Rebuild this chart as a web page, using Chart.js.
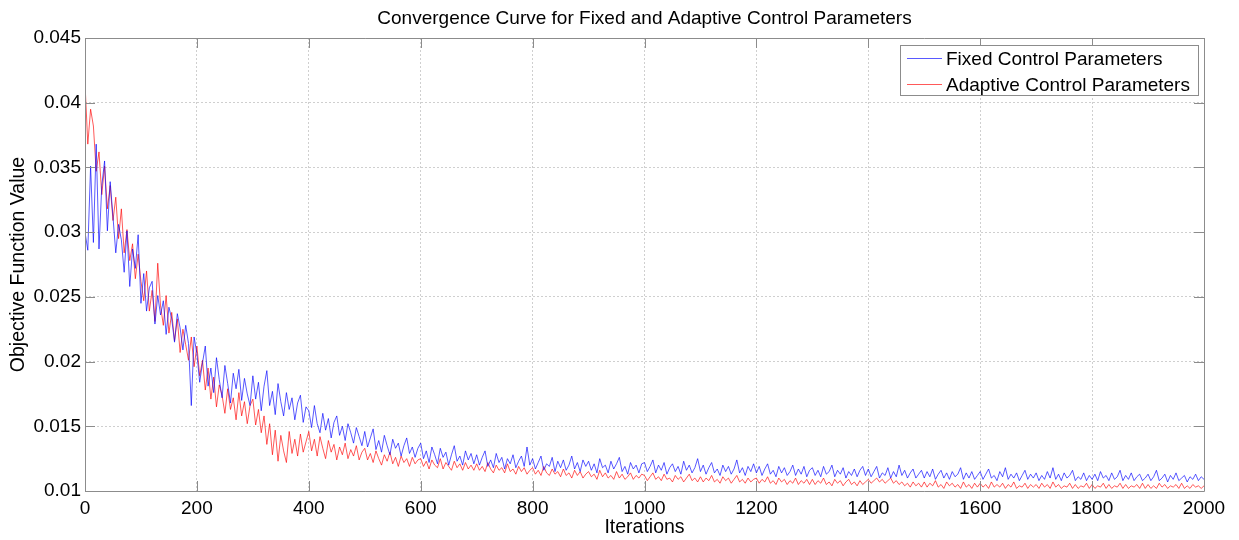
<!DOCTYPE html>
<html>
<head>
<meta charset="utf-8">
<title>Convergence Curve</title>
<script src="https://cdn.jsdelivr.net/npm/chart.js@4/dist/chart.umd.min.js"></script>
<style>
    body { margin: 0; background: #fff; }
    #wrap { width: 1239px; height: 540px; }
</style>
</head>
<body>
<div id="wrap"><canvas id="convChart" width="1239" height="540"></canvas></div>
<script>
const ITER_STEP = 5;
const X_TICKS = [0, 200, 400, 600, 800, 1000, 1200, 1400, 1600, 1800, 2000];
const Y_TICKS = [0.01, 0.015, 0.02, 0.025, 0.03, 0.035, 0.04, 0.045];
const SERIES_LABELS = ['Fixed Control Parameters', 'Adaptive Control Parameters'];
const TITLE_TEXT = 'Convergence Curve for Fixed and Adaptive Control Parameters';

const fixedValues = [
    0.0300, 0.0286, 0.0351, 0.0292, 0.0368, 0.0287, 0.0336, 0.0355, 0.0301, 0.0339, 0.0312, 0.0284, 0.0306, 0.0294, 0.0269, 0.0301, 0.0258, 0.0287, 0.0272, 0.0298,
    0.0245, 0.0268, 0.0239, 0.0257, 0.0262, 0.0229, 0.0251, 0.0236, 0.0247, 0.0221, 0.0242, 0.0233, 0.0215, 0.0237, 0.0226, 0.0209, 0.0228, 0.0214, 0.0166, 0.0219,
    0.0206, 0.0184, 0.0199, 0.0212, 0.0181, 0.0195, 0.0176, 0.0203, 0.0186, 0.0172, 0.0197, 0.0183, 0.0168, 0.0191, 0.0179, 0.0194, 0.0170, 0.0187, 0.0175, 0.0166,
    0.0189, 0.0171, 0.0184, 0.0162, 0.0181, 0.0193, 0.0166, 0.0177, 0.0159, 0.0183, 0.0169, 0.0158, 0.0176, 0.0163, 0.0172, 0.0155, 0.0168, 0.0174, 0.0153, 0.0165,
    0.0162, 0.0149, 0.0166, 0.0152, 0.0145, 0.0160, 0.0147, 0.0156, 0.0141, 0.0153, 0.0158, 0.0143, 0.0150, 0.0139, 0.0152, 0.0145, 0.0137, 0.0149, 0.0142, 0.0135,
    0.0146, 0.0134, 0.0141, 0.0148, 0.0132, 0.0139, 0.0130, 0.0143, 0.0135, 0.0128, 0.0140, 0.0133, 0.0137, 0.0127, 0.0135, 0.0141, 0.0129, 0.0134, 0.0126, 0.0133,
    0.0137, 0.0125, 0.0131, 0.0122, 0.0134, 0.0128, 0.0121, 0.0133, 0.0126, 0.0130, 0.0120, 0.0128, 0.0135, 0.0123, 0.0127, 0.0120, 0.0131, 0.0124, 0.0129, 0.0121,
    0.0128, 0.0120, 0.0126, 0.0131, 0.0119, 0.0124, 0.0118, 0.0129, 0.0122, 0.0126, 0.0117, 0.0125, 0.0121, 0.0128, 0.0118, 0.0123, 0.0127, 0.0119, 0.0134, 0.0120,
    0.0125, 0.0117, 0.0122, 0.0127, 0.0116, 0.0121, 0.0119, 0.0126, 0.0115, 0.0123, 0.0118, 0.0124, 0.0116, 0.0120, 0.0127, 0.0117, 0.0122, 0.0115, 0.0124, 0.0119,
    0.0123, 0.0116, 0.0121, 0.0114, 0.0125, 0.0118, 0.0120, 0.0114, 0.0123, 0.0117, 0.0121, 0.0126, 0.0115, 0.0119, 0.0113, 0.0122, 0.0117, 0.0120, 0.0114, 0.0121,
    0.0122, 0.0115, 0.0119, 0.0124, 0.0114, 0.0120, 0.0116, 0.0122, 0.0113, 0.0118, 0.0121, 0.0115, 0.0119, 0.0113, 0.0123, 0.0116, 0.0120, 0.0114, 0.0118, 0.0125,
    0.0115, 0.0120, 0.0113, 0.0118, 0.0122, 0.0114, 0.0117, 0.0112, 0.0120, 0.0115, 0.0119, 0.0113, 0.0117, 0.0124, 0.0114, 0.0118, 0.0112, 0.0119, 0.0115, 0.0121,
    0.0114, 0.0119, 0.0112, 0.0117, 0.0121, 0.0113, 0.0116, 0.0111, 0.0119, 0.0114, 0.0118, 0.0112, 0.0115, 0.0120, 0.0112, 0.0117, 0.0113, 0.0119, 0.0111, 0.0116,
    0.0118, 0.0112, 0.0116, 0.0111, 0.0119, 0.0113, 0.0115, 0.0120, 0.0111, 0.0116, 0.0113, 0.0118, 0.0110, 0.0115, 0.0112, 0.0117, 0.0111, 0.0116, 0.0119, 0.0112,
    0.0117, 0.0111, 0.0115, 0.0119, 0.0110, 0.0114, 0.0112, 0.0118, 0.0110, 0.0115, 0.0111, 0.0120, 0.0112, 0.0116, 0.0110, 0.0114, 0.0117, 0.0110, 0.0113, 0.0116,
    0.0110, 0.0115, 0.0111, 0.0117, 0.0109, 0.0113, 0.0116, 0.0110, 0.0114, 0.0109, 0.0115, 0.0111, 0.0113, 0.0118, 0.0109, 0.0114, 0.0110, 0.0115, 0.0109, 0.0112,
    0.0115, 0.0109, 0.0113, 0.0117, 0.0110, 0.0112, 0.0108, 0.0115, 0.0111, 0.0118, 0.0109, 0.0113, 0.0110, 0.0114, 0.0108, 0.0112, 0.0116, 0.0109, 0.0113, 0.0110,
    0.0114, 0.0108, 0.0112, 0.0109, 0.0115, 0.0110, 0.0118, 0.0109, 0.0113, 0.0108, 0.0114, 0.0110, 0.0112, 0.0116, 0.0108, 0.0111, 0.0109, 0.0114, 0.0108, 0.0112,
    0.0109, 0.0113, 0.0108, 0.0115, 0.0110, 0.0112, 0.0108, 0.0114, 0.0109, 0.0111, 0.0116, 0.0108, 0.0112, 0.0109, 0.0114, 0.0108, 0.0111, 0.0113, 0.0108, 0.0110,
    0.0113, 0.0108, 0.0111, 0.0116, 0.0108, 0.0110, 0.0113, 0.0107, 0.0112, 0.0109, 0.0114, 0.0108, 0.0110, 0.0112, 0.0107, 0.0111, 0.0109, 0.0113, 0.0108, 0.0111,
    0.0109
];

const adaptiveValues = [
    0.0415, 0.0368, 0.0395, 0.0382, 0.0347, 0.0362, 0.0329, 0.0351, 0.0318, 0.0336, 0.0309, 0.0327, 0.0295, 0.0318, 0.0284, 0.0302, 0.0278, 0.0291, 0.0264, 0.0283,
    0.0262, 0.0247, 0.0270, 0.0239, 0.0255, 0.0231, 0.0276, 0.0243, 0.0228, 0.0251, 0.0222, 0.0238, 0.0216, 0.0233, 0.0207, 0.0225, 0.0213, 0.0201, 0.0219, 0.0196,
    0.0212, 0.0189, 0.0201, 0.0178, 0.0195, 0.0171, 0.0188, 0.0165, 0.0182, 0.0174, 0.0160, 0.0179, 0.0163, 0.0172, 0.0155, 0.0176, 0.0158, 0.0169, 0.0152, 0.0166,
    0.0171, 0.0151, 0.0163, 0.0145, 0.0158, 0.0136, 0.0152, 0.0128, 0.0147, 0.0123, 0.0143, 0.0131, 0.0122, 0.0146, 0.0129, 0.0140, 0.0127, 0.0144, 0.0130, 0.0138,
    0.0146, 0.0131, 0.0140, 0.0127, 0.0142, 0.0133, 0.0125, 0.0139, 0.0130, 0.0136, 0.0124, 0.0134, 0.0128, 0.0137, 0.0125, 0.0132, 0.0127, 0.0135, 0.0124, 0.0130,
    0.0133, 0.0124, 0.0129, 0.0122, 0.0131, 0.0125, 0.0120, 0.0128, 0.0123, 0.0130, 0.0121, 0.0126, 0.0119, 0.0127, 0.0122, 0.0125, 0.0119, 0.0126, 0.0121, 0.0124,
    0.0125, 0.0119, 0.0123, 0.0117, 0.0124, 0.0120, 0.0118, 0.0125, 0.0117, 0.0122, 0.0119, 0.0116, 0.0123, 0.0118, 0.0121, 0.0116, 0.0122, 0.0117, 0.0120, 0.0116,
    0.0121, 0.0116, 0.0119, 0.0115, 0.0122, 0.0117, 0.0114, 0.0120, 0.0116, 0.0118, 0.0114, 0.0121, 0.0115, 0.0117, 0.0113, 0.0119, 0.0115, 0.0118, 0.0113, 0.0116,
    0.0118, 0.0113, 0.0116, 0.0112, 0.0119, 0.0114, 0.0112, 0.0117, 0.0113, 0.0115, 0.0111, 0.0117, 0.0112, 0.0114, 0.0110, 0.0116, 0.0112, 0.0115, 0.0110, 0.0113,
    0.0115, 0.0111, 0.0113, 0.0109, 0.0116, 0.0111, 0.0114, 0.0110, 0.0112, 0.0109, 0.0115, 0.0110, 0.0113, 0.0109, 0.0111, 0.0114, 0.0109, 0.0112, 0.0110, 0.0113,
    0.0112, 0.0108, 0.0111, 0.0114, 0.0109, 0.0111, 0.0108, 0.0113, 0.0109, 0.0110, 0.0107, 0.0112, 0.0109, 0.0111, 0.0107, 0.0110, 0.0113, 0.0108, 0.0110, 0.0107,
    0.0111, 0.0107, 0.0110, 0.0108, 0.0112, 0.0107, 0.0109, 0.0106, 0.0111, 0.0108, 0.0110, 0.0106, 0.0109, 0.0112, 0.0107, 0.0109, 0.0106, 0.0110, 0.0107, 0.0109,
    0.0110, 0.0106, 0.0109, 0.0107, 0.0111, 0.0106, 0.0108, 0.0105, 0.0110, 0.0107, 0.0109, 0.0105, 0.0108, 0.0106, 0.0110, 0.0105, 0.0108, 0.0106, 0.0109, 0.0105,
    0.0109, 0.0105, 0.0108, 0.0106, 0.0110, 0.0105, 0.0107, 0.0104, 0.0109, 0.0106, 0.0108, 0.0104, 0.0107, 0.0109, 0.0105, 0.0107, 0.0104, 0.0108, 0.0105, 0.0107,
    0.0109, 0.0106, 0.0108, 0.0110, 0.0107, 0.0109, 0.0106, 0.0108, 0.0110, 0.0106, 0.0108, 0.0105, 0.0107, 0.0104, 0.0106, 0.0103, 0.0107, 0.0104, 0.0106, 0.0103,
    0.0107, 0.0103, 0.0106, 0.0104, 0.0108, 0.0103, 0.0105, 0.0102, 0.0107, 0.0104, 0.0106, 0.0103, 0.0105, 0.0102, 0.0107, 0.0103, 0.0105, 0.0102, 0.0106, 0.0103,
    0.0106, 0.0103, 0.0105, 0.0102, 0.0107, 0.0103, 0.0105, 0.0103, 0.0106, 0.0102, 0.0105, 0.0103, 0.0107, 0.0102, 0.0104, 0.0103, 0.0106, 0.0102, 0.0105, 0.0103,
    0.0105, 0.0102, 0.0106, 0.0103, 0.0105, 0.0102, 0.0107, 0.0103, 0.0105, 0.0102, 0.0104, 0.0103, 0.0106, 0.0102, 0.0105, 0.0102, 0.0104, 0.0103, 0.0106, 0.0102,
    0.0105, 0.0102, 0.0104, 0.0103, 0.0106, 0.0102, 0.0105, 0.0102, 0.0104, 0.0103, 0.0106, 0.0102, 0.0105, 0.0102, 0.0104, 0.0103, 0.0105, 0.0102, 0.0106, 0.0102,
    0.0105, 0.0102, 0.0104, 0.0102, 0.0106, 0.0103, 0.0105, 0.0102, 0.0104, 0.0103, 0.0105, 0.0102, 0.0106, 0.0102, 0.0104, 0.0102, 0.0105, 0.0103, 0.0104, 0.0102,
    0.0104
];

const FONT_FAMILY = 'Arial, "Liberation Sans", Helvetica, sans-serif';
const AXIS_COLOR = '#8c8c8c';
const SERIES_COLORS = ['rgba(0, 0, 255, 0.65)', 'rgba(255, 0, 0, 0.65)'];

function toPoints(values) {
    return values.map((v, i) => ({ x: i * ITER_STEP, y: v }));
}

// MATLAB style box: frame, inward ticks on all sides, title and legend
const matlabFrame = {
    id: 'matlabFrame',
    afterDatasetsDraw(chart) {
        const { ctx, chartArea: a, scales } = chart;
        const tickLen = 10;
        ctx.save();
        ctx.strokeStyle = AXIS_COLOR;
        ctx.lineWidth = 1;
        ctx.beginPath();
        ctx.rect(Math.round(a.left) + 0.5, Math.round(a.top) + 0.5,
            Math.round(a.right - a.left), Math.round(a.bottom - a.top));
        X_TICKS.forEach(v => {
            const px = Math.round(scales.x.getPixelForValue(v)) + 0.5;
            ctx.moveTo(px, a.bottom); ctx.lineTo(px, a.bottom - tickLen);
            ctx.moveTo(px, a.top); ctx.lineTo(px, a.top + tickLen);
        });
        Y_TICKS.forEach(v => {
            const py = Math.round(scales.y.getPixelForValue(v)) + 0.5;
            ctx.moveTo(a.left, py); ctx.lineTo(a.left + tickLen, py);
            ctx.moveTo(a.right, py); ctx.lineTo(a.right - tickLen, py);
        });
        ctx.stroke();
        ctx.restore();
    },
    afterDraw(chart) {
        const { ctx, chartArea: a } = chart;
        ctx.save();

        // title, centred over the axes box
        ctx.fillStyle = '#000';
        ctx.font = '19px ' + FONT_FAMILY;
        ctx.textAlign = 'center';
        ctx.textBaseline = 'alphabetic';
        ctx.fillText(TITLE_TEXT, (a.left + a.right) / 2, 24);

        // legend box in the top right corner
        const box = { left: 900, top: 45, right: 1198, bottom: 95 };
        ctx.fillStyle = '#fff';
        ctx.fillRect(box.left, box.top, box.right - box.left, box.bottom - box.top);
        ctx.strokeStyle = AXIS_COLOR;
        ctx.lineWidth = 1;
        ctx.strokeRect(box.left + 0.5, box.top + 0.5, box.right - box.left, box.bottom - box.top);

        ctx.font = '19px ' + FONT_FAMILY;
        ctx.textAlign = 'left';
        ctx.textBaseline = 'middle';
        chart.data.datasets.forEach((ds, i) => {
            const y = box.top + 13.5 + i * 26;
            ctx.strokeStyle = ds.borderColor;
            ctx.beginPath();
            ctx.moveTo(907, y);
            ctx.lineTo(942, y);
            ctx.stroke();
            ctx.fillStyle = '#000';
            ctx.fillText(ds.label, 946, y + 1);
        });
        ctx.restore();
    }
};

const ctx = document.getElementById('convChart').getContext('2d');

new Chart(ctx, {
    type: 'line',
    data: {
        datasets: [
            {
                label: SERIES_LABELS[0],
                data: toPoints(fixedValues),
                borderColor: SERIES_COLORS[0],
                borderWidth: 1,
                pointRadius: 0,
                tension: 0
            },
            {
                label: SERIES_LABELS[1],
                data: toPoints(adaptiveValues),
                borderColor: SERIES_COLORS[1],
                borderWidth: 1,
                pointRadius: 0,
                tension: 0
            }
        ]
    },
    options: {
        responsive: false,
        animation: false,
        events: [],
        layout: {
            padding: { top: 38, right: 35, bottom: 0, left: 0 }
        },
        scales: {
            x: {
                type: 'linear',
                min: 0,
                max: 2000,
                afterBuildTicks: scale => { scale.ticks = X_TICKS.map(v => ({ value: v })); },
                afterFit: scale => { scale.height = 49; },
                grid: { color: '#cfcfcf', drawTicks: false },
                border: { display: false, dash: [2, 2] },
                ticks: {
                    autoSkip: false,
                    maxRotation: 0,
                    padding: 6,
                    color: '#000',
                    font: { family: FONT_FAMILY, size: 19 },
                    callback: value => String(value)
                },
                title: {
                    display: true,
                    text: 'Iterations',
                    color: '#000',
                    font: { family: FONT_FAMILY, size: 19.5 },
                    padding: { top: 0, bottom: 1 }
                }
            },
            y: {
                type: 'linear',
                min: 0.01,
                max: 0.045,
                afterBuildTicks: scale => { scale.ticks = Y_TICKS.map(v => ({ value: v })); },
                afterFit: scale => { scale.width = 85; },
                grid: { color: '#cfcfcf', drawTicks: false },
                border: { display: false, dash: [2, 2] },
                ticks: {
                    autoSkip: false,
                    padding: 4,
                    color: '#000',
                    font: { family: FONT_FAMILY, size: 19 },
                    callback: value => String(value)
                },
                title: {
                    display: true,
                    text: 'Objective Function Value',
                    color: '#000',
                    font: { family: FONT_FAMILY, size: 19.5 },
                    padding: { top: 7, bottom: 0 }
                }
            }
        },
        plugins: {
            legend: { display: false },
            title: { display: false },
            tooltip: { enabled: false }
        }
    },
    plugins: [matlabFrame]
});
</script>
</body>
</html>
